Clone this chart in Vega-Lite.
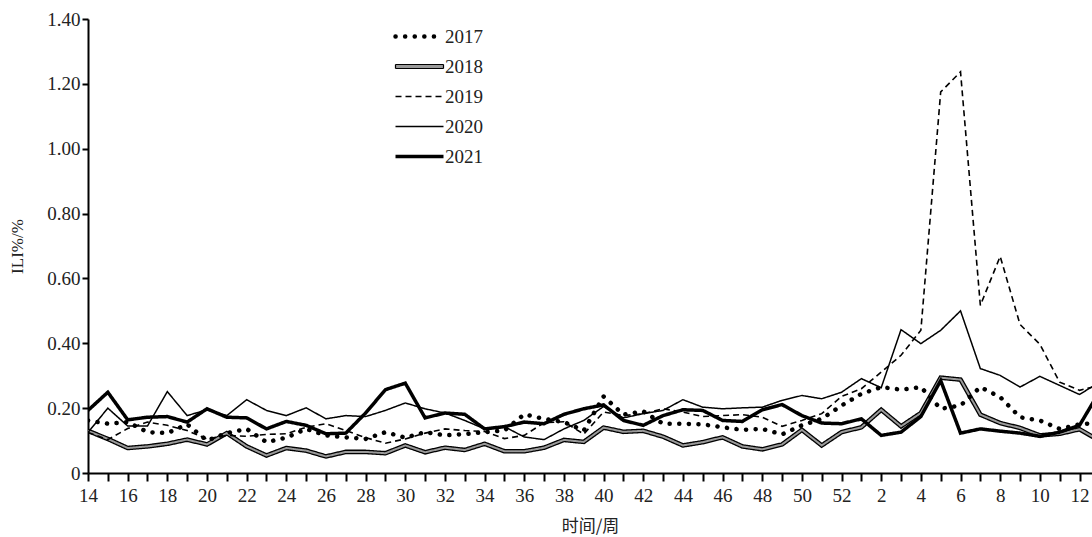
{
  "$schema": "https://vega.github.io/schema/vega-lite/v6.json",
  "width": 1004,
  "height": 454,
  "autosize": {"type": "none"},
  "padding": {"left": 88, "top": 19, "right": 0, "bottom": 64},
  "background": "white",
  "config": {
    "view": {"stroke": null},
    "font": "Liberation Serif",
    "axis": {
      "grid": false,
      "domainColor": "black",
      "domainWidth": 2,
      "tickColor": "black",
      "tickWidth": 2,
      "labelFont": "Liberation Serif",
      "labelFontSize": 19,
      "labelColor": "#222",
      "titleFont": "Noto Sans CJK SC",
      "titleFontSize": 17,
      "titleFontWeight": "normal",
      "titleColor": "#222"
    },
    "legend": {
      "orient": "none",
      "legendX": 322,
      "legendY": 8,
      "title": null,
      "symbolSize": 100,
      "symbolStrokeColor": "black",
      "labelFont": "Liberation Serif",
      "labelFontSize": 19,
      "labelColor": "#222",
      "labelOffset": 16,
      "rowPadding": 10
    }
  },
  "datasets": {
    "ili": [
      {"year":"2017","seq":1,"week":14,"ili":0.162},{"year":"2017","seq":2,"week":15,"ili":0.152},{"year":"2017","seq":3,"week":16,"ili":0.157},{"year":"2017","seq":4,"week":17,"ili":0.126},{"year":"2017","seq":5,"week":18,"ili":0.123},{"year":"2017","seq":6,"week":19,"ili":0.15},{"year":"2017","seq":7,"week":20,"ili":0.10},{"year":"2017","seq":8,"week":21,"ili":0.123},{"year":"2017","seq":9,"week":22,"ili":0.136},{"year":"2017","seq":10,"week":23,"ili":0.095},
      {"year":"2017","seq":11,"week":24,"ili":0.109},{"year":"2017","seq":12,"week":25,"ili":0.136},{"year":"2017","seq":13,"week":26,"ili":0.116},{"year":"2017","seq":14,"week":27,"ili":0.11},{"year":"2017","seq":15,"week":28,"ili":0.105},{"year":"2017","seq":16,"week":29,"ili":0.126},{"year":"2017","seq":17,"week":30,"ili":0.109},{"year":"2017","seq":18,"week":31,"ili":0.126},{"year":"2017","seq":19,"week":32,"ili":0.116},{"year":"2017","seq":20,"week":33,"ili":0.12},
      {"year":"2017","seq":21,"week":34,"ili":0.126},{"year":"2017","seq":22,"week":35,"ili":0.131},{"year":"2017","seq":23,"week":36,"ili":0.181},{"year":"2017","seq":24,"week":37,"ili":0.167},{"year":"2017","seq":25,"week":38,"ili":0.157},{"year":"2017","seq":26,"week":39,"ili":0.131},{"year":"2017","seq":27,"week":40,"ili":0.236},{"year":"2017","seq":28,"week":41,"ili":0.18},{"year":"2017","seq":29,"week":42,"ili":0.19},{"year":"2017","seq":30,"week":43,"ili":0.152},
      {"year":"2017","seq":31,"week":44,"ili":0.152},{"year":"2017","seq":32,"week":45,"ili":0.15},{"year":"2017","seq":33,"week":46,"ili":0.141},{"year":"2017","seq":34,"week":47,"ili":0.133},{"year":"2017","seq":35,"week":48,"ili":0.136},{"year":"2017","seq":36,"week":49,"ili":0.119},{"year":"2017","seq":37,"week":50,"ili":0.147},{"year":"2017","seq":38,"week":51,"ili":0.167},{"year":"2017","seq":39,"week":52,"ili":0.208},{"year":"2017","seq":40,"week":1,"ili":0.244},
      {"year":"2017","seq":41,"week":2,"ili":0.265},{"year":"2017","seq":42,"week":3,"ili":0.257},{"year":"2017","seq":43,"week":4,"ili":0.265},{"year":"2017","seq":44,"week":5,"ili":0.198},{"year":"2017","seq":45,"week":6,"ili":0.208},{"year":"2017","seq":46,"week":7,"ili":0.265},{"year":"2017","seq":47,"week":8,"ili":0.234},{"year":"2017","seq":48,"week":9,"ili":0.172},{"year":"2017","seq":49,"week":10,"ili":0.162},{"year":"2017","seq":50,"week":11,"ili":0.136},
      {"year":"2017","seq":51,"week":12,"ili":0.15},{"year":"2017","seq":52,"week":13,"ili":0.155},

      {"year":"2018","seq":1,"week":14,"ili":0.13},{"year":"2018","seq":2,"week":15,"ili":0.105},{"year":"2018","seq":3,"week":16,"ili":0.077},{"year":"2018","seq":4,"week":17,"ili":0.082},{"year":"2018","seq":5,"week":18,"ili":0.09},{"year":"2018","seq":6,"week":19,"ili":0.103},{"year":"2018","seq":7,"week":20,"ili":0.088},{"year":"2018","seq":8,"week":21,"ili":0.123},{"year":"2018","seq":9,"week":22,"ili":0.082},{"year":"2018","seq":10,"week":23,"ili":0.054},
      {"year":"2018","seq":11,"week":24,"ili":0.077},{"year":"2018","seq":12,"week":25,"ili":0.069},{"year":"2018","seq":13,"week":26,"ili":0.051},{"year":"2018","seq":14,"week":27,"ili":0.065},{"year":"2018","seq":15,"week":28,"ili":0.065},{"year":"2018","seq":16,"week":29,"ili":0.061},{"year":"2018","seq":17,"week":30,"ili":0.085},{"year":"2018","seq":18,"week":31,"ili":0.064},{"year":"2018","seq":19,"week":32,"ili":0.078},{"year":"2018","seq":20,"week":33,"ili":0.071},
      {"year":"2018","seq":21,"week":34,"ili":0.09},{"year":"2018","seq":22,"week":35,"ili":0.067},{"year":"2018","seq":23,"week":36,"ili":0.067},{"year":"2018","seq":24,"week":37,"ili":0.078},{"year":"2018","seq":25,"week":38,"ili":0.102},{"year":"2018","seq":26,"week":39,"ili":0.096},{"year":"2018","seq":27,"week":40,"ili":0.14},{"year":"2018","seq":28,"week":41,"ili":0.127},{"year":"2018","seq":29,"week":42,"ili":0.13},{"year":"2018","seq":30,"week":43,"ili":0.112},
      {"year":"2018","seq":31,"week":44,"ili":0.085},{"year":"2018","seq":32,"week":45,"ili":0.095},{"year":"2018","seq":33,"week":46,"ili":0.11},{"year":"2018","seq":34,"week":47,"ili":0.082},{"year":"2018","seq":35,"week":48,"ili":0.073},{"year":"2018","seq":36,"week":49,"ili":0.088},{"year":"2018","seq":37,"week":50,"ili":0.133},{"year":"2018","seq":38,"week":51,"ili":0.085},{"year":"2018","seq":39,"week":52,"ili":0.126},{"year":"2018","seq":40,"week":1,"ili":0.141},
      {"year":"2018","seq":41,"week":2,"ili":0.195},{"year":"2018","seq":42,"week":3,"ili":0.144},{"year":"2018","seq":43,"week":4,"ili":0.185},{"year":"2018","seq":44,"week":5,"ili":0.294},{"year":"2018","seq":45,"week":6,"ili":0.288},{"year":"2018","seq":46,"week":7,"ili":0.18},{"year":"2018","seq":47,"week":8,"ili":0.154},{"year":"2018","seq":48,"week":9,"ili":0.139},{"year":"2018","seq":49,"week":10,"ili":0.116},{"year":"2018","seq":50,"week":11,"ili":0.121},
      {"year":"2018","seq":51,"week":12,"ili":0.135},{"year":"2018","seq":52,"week":13,"ili":0.10},

      {"year":"2019","seq":1,"week":14,"ili":0.125},{"year":"2019","seq":2,"week":15,"ili":0.103},{"year":"2019","seq":3,"week":16,"ili":0.137},{"year":"2019","seq":4,"week":17,"ili":0.157},{"year":"2019","seq":5,"week":18,"ili":0.147},{"year":"2019","seq":6,"week":19,"ili":0.131},{"year":"2019","seq":7,"week":20,"ili":0.105},{"year":"2019","seq":8,"week":21,"ili":0.116},{"year":"2019","seq":9,"week":22,"ili":0.113},{"year":"2019","seq":10,"week":23,"ili":0.119},
      {"year":"2019","seq":11,"week":24,"ili":0.121},{"year":"2019","seq":12,"week":25,"ili":0.141},{"year":"2019","seq":13,"week":26,"ili":0.152},{"year":"2019","seq":14,"week":27,"ili":0.131},{"year":"2019","seq":15,"week":28,"ili":0.109},{"year":"2019","seq":16,"week":29,"ili":0.092},{"year":"2019","seq":17,"week":30,"ili":0.105},{"year":"2019","seq":18,"week":31,"ili":0.123},{"year":"2019","seq":19,"week":32,"ili":0.136},{"year":"2019","seq":20,"week":33,"ili":0.131},
      {"year":"2019","seq":21,"week":34,"ili":0.128},{"year":"2019","seq":22,"week":35,"ili":0.106},{"year":"2019","seq":23,"week":36,"ili":0.116},{"year":"2019","seq":24,"week":37,"ili":0.155},{"year":"2019","seq":25,"week":38,"ili":0.158},{"year":"2019","seq":26,"week":39,"ili":0.12},{"year":"2019","seq":27,"week":40,"ili":0.188},{"year":"2019","seq":28,"week":41,"ili":0.177},{"year":"2019","seq":29,"week":42,"ili":0.183},{"year":"2019","seq":30,"week":43,"ili":0.198},
      {"year":"2019","seq":31,"week":44,"ili":0.188},{"year":"2019","seq":32,"week":45,"ili":0.174},{"year":"2019","seq":33,"week":46,"ili":0.177},{"year":"2019","seq":34,"week":47,"ili":0.18},{"year":"2019","seq":35,"week":48,"ili":0.172},{"year":"2019","seq":36,"week":49,"ili":0.144},{"year":"2019","seq":37,"week":50,"ili":0.162},{"year":"2019","seq":38,"week":51,"ili":0.183},{"year":"2019","seq":39,"week":52,"ili":0.236},{"year":"2019","seq":40,"week":1,"ili":0.26},
      {"year":"2019","seq":41,"week":2,"ili":0.311},{"year":"2019","seq":42,"week":3,"ili":0.363},{"year":"2019","seq":43,"week":4,"ili":0.44},{"year":"2019","seq":44,"week":5,"ili":1.175},{"year":"2019","seq":45,"week":6,"ili":1.237},{"year":"2019","seq":46,"week":7,"ili":0.517},{"year":"2019","seq":47,"week":8,"ili":0.668},{"year":"2019","seq":48,"week":9,"ili":0.458},{"year":"2019","seq":49,"week":10,"ili":0.397},{"year":"2019","seq":50,"week":11,"ili":0.28},
      {"year":"2019","seq":51,"week":12,"ili":0.255},{"year":"2019","seq":52,"week":13,"ili":0.27},

      {"year":"2020","seq":1,"week":14,"ili":0.125},{"year":"2020","seq":2,"week":15,"ili":0.20},{"year":"2020","seq":3,"week":16,"ili":0.145},{"year":"2020","seq":4,"week":17,"ili":0.145},{"year":"2020","seq":5,"week":18,"ili":0.251},{"year":"2020","seq":6,"week":19,"ili":0.177},{"year":"2020","seq":7,"week":20,"ili":0.195},{"year":"2020","seq":8,"week":21,"ili":0.177},{"year":"2020","seq":9,"week":22,"ili":0.226},{"year":"2020","seq":10,"week":23,"ili":0.193},
      {"year":"2020","seq":11,"week":24,"ili":0.177},{"year":"2020","seq":12,"week":25,"ili":0.201},{"year":"2020","seq":13,"week":26,"ili":0.167},{"year":"2020","seq":14,"week":27,"ili":0.177},{"year":"2020","seq":15,"week":28,"ili":0.174},{"year":"2020","seq":16,"week":29,"ili":0.193},{"year":"2020","seq":17,"week":30,"ili":0.216},{"year":"2020","seq":18,"week":31,"ili":0.198},{"year":"2020","seq":19,"week":32,"ili":0.185},{"year":"2020","seq":20,"week":33,"ili":0.162},
      {"year":"2020","seq":21,"week":34,"ili":0.136},{"year":"2020","seq":22,"week":35,"ili":0.143},{"year":"2020","seq":23,"week":36,"ili":0.111},{"year":"2020","seq":24,"week":37,"ili":0.103},{"year":"2020","seq":25,"week":38,"ili":0.136},{"year":"2020","seq":26,"week":39,"ili":0.162},{"year":"2020","seq":27,"week":40,"ili":0.205},{"year":"2020","seq":28,"week":41,"ili":0.17},{"year":"2020","seq":29,"week":42,"ili":0.183},{"year":"2020","seq":30,"week":43,"ili":0.193},
      {"year":"2020","seq":31,"week":44,"ili":0.226},{"year":"2020","seq":32,"week":45,"ili":0.203},{"year":"2020","seq":33,"week":46,"ili":0.198},{"year":"2020","seq":34,"week":47,"ili":0.201},{"year":"2020","seq":35,"week":48,"ili":0.203},{"year":"2020","seq":36,"week":49,"ili":0.224},{"year":"2020","seq":37,"week":50,"ili":0.239},{"year":"2020","seq":38,"week":51,"ili":0.229},{"year":"2020","seq":39,"week":52,"ili":0.249},{"year":"2020","seq":40,"week":1,"ili":0.291},
      {"year":"2020","seq":41,"week":2,"ili":0.263},{"year":"2020","seq":42,"week":3,"ili":0.442},{"year":"2020","seq":43,"week":4,"ili":0.399},{"year":"2020","seq":44,"week":5,"ili":0.44},{"year":"2020","seq":45,"week":6,"ili":0.50},{"year":"2020","seq":46,"week":7,"ili":0.322},{"year":"2020","seq":47,"week":8,"ili":0.301},{"year":"2020","seq":48,"week":9,"ili":0.265},{"year":"2020","seq":49,"week":10,"ili":0.298},{"year":"2020","seq":50,"week":11,"ili":0.27},
      {"year":"2020","seq":51,"week":12,"ili":0.242},{"year":"2020","seq":52,"week":13,"ili":0.28},

      {"year":"2021","seq":1,"week":14,"ili":0.193},{"year":"2021","seq":2,"week":15,"ili":0.249},{"year":"2021","seq":3,"week":16,"ili":0.164},{"year":"2021","seq":4,"week":17,"ili":0.172},{"year":"2021","seq":5,"week":18,"ili":0.174},{"year":"2021","seq":6,"week":19,"ili":0.157},{"year":"2021","seq":7,"week":20,"ili":0.198},{"year":"2021","seq":8,"week":21,"ili":0.172},{"year":"2021","seq":9,"week":22,"ili":0.170},{"year":"2021","seq":10,"week":23,"ili":0.136},
      {"year":"2021","seq":11,"week":24,"ili":0.159},{"year":"2021","seq":12,"week":25,"ili":0.147},{"year":"2021","seq":13,"week":26,"ili":0.121},{"year":"2021","seq":14,"week":27,"ili":0.123},{"year":"2021","seq":15,"week":28,"ili":0.185},{"year":"2021","seq":16,"week":29,"ili":0.257},{"year":"2021","seq":17,"week":30,"ili":0.277},{"year":"2021","seq":18,"week":31,"ili":0.170},{"year":"2021","seq":19,"week":32,"ili":0.185},{"year":"2021","seq":20,"week":33,"ili":0.181},
      {"year":"2021","seq":21,"week":34,"ili":0.136},{"year":"2021","seq":22,"week":35,"ili":0.143},{"year":"2021","seq":23,"week":36,"ili":0.157},{"year":"2021","seq":24,"week":37,"ili":0.152},{"year":"2021","seq":25,"week":38,"ili":0.181},{"year":"2021","seq":26,"week":39,"ili":0.198},{"year":"2021","seq":27,"week":40,"ili":0.210},{"year":"2021","seq":28,"week":41,"ili":0.162},{"year":"2021","seq":29,"week":42,"ili":0.147},{"year":"2021","seq":30,"week":43,"ili":0.177},
      {"year":"2021","seq":31,"week":44,"ili":0.195},{"year":"2021","seq":32,"week":45,"ili":0.193},{"year":"2021","seq":33,"week":46,"ili":0.162},{"year":"2021","seq":34,"week":47,"ili":0.159},{"year":"2021","seq":35,"week":48,"ili":0.195},{"year":"2021","seq":36,"week":49,"ili":0.211},{"year":"2021","seq":37,"week":50,"ili":0.177},{"year":"2021","seq":38,"week":51,"ili":0.154},{"year":"2021","seq":39,"week":52,"ili":0.152},{"year":"2021","seq":40,"week":1,"ili":0.167},
      {"year":"2021","seq":41,"week":2,"ili":0.116},{"year":"2021","seq":42,"week":3,"ili":0.126},{"year":"2021","seq":43,"week":4,"ili":0.174},{"year":"2021","seq":44,"week":5,"ili":0.285},{"year":"2021","seq":45,"week":6,"ili":0.123},{"year":"2021","seq":46,"week":7,"ili":0.136},{"year":"2021","seq":47,"week":8,"ili":0.129},{"year":"2021","seq":48,"week":9,"ili":0.123},{"year":"2021","seq":49,"week":10,"ili":0.113},{"year":"2021","seq":50,"week":11,"ili":0.126},
      {"year":"2021","seq":51,"week":12,"ili":0.147},{"year":"2021","seq":52,"week":13,"ili":0.25}
    ]
  },
  "data": {"name": "ili"},
  "encoding": {
    "x": {
      "field": "seq",
      "type": "quantitative",
      "scale": {"domain": [1, 51.63], "nice": false, "zero": false},
      "axis": {
        "values": [1,2,3,4,5,6,7,8,9,10,11,12,13,14,15,16,17,18,19,20,21,22,23,24,25,26,27,28,29,30,31,32,33,34,35,36,37,38,39,40,41,42,43,44,45,46,47,48,49,50,51],
        "labelExpr": "datum.value % 2 == 1 ? (datum.value <= 39 ? datum.value + 13 : datum.value - 39) : ''",
        "tickSize": 8,
        "labelPadding": 5,
        "labelFlush": false,
        "labelOverlap": false,
        "title": "时间/周",
        "titlePadding": 13
      }
    },
    "y": {
      "field": "ili",
      "type": "quantitative",
      "scale": {"domain": [0, 1.4], "nice": false},
      "axis": {
        "values": [0, 0.2, 0.4, 0.6, 0.8, 1.0, 1.2, 1.4],
        "labelExpr": "datum.value == 0 ? '0' : format(datum.value, '.2f')",
        "tickSize": 6,
        "labelPadding": 2,
        "title": "ILI%/%",
        "titleFont": "Liberation Serif",
        "titleFontSize": 17,
        "titlePadding": 20
      }
    },
    "strokeDash": {
      "field": "year",
      "type": "nominal",
      "scale": {"domain": ["2017","2018","2019","2020","2021"], "range": [[0.1, 9.5],[1, 0],[6, 4],[1, 0],[1, 0]]},
      "legend": {
        "encode": {
          "symbols": {
            "update": {
              "stroke": {"value": "black"},
              "shape": {"signal": "datum.label === '2018' ? 'M-4.8,-0.4H4.8V0.4H-4.8Z' : 'M-4.8,0H4.8'"},
              "fill": {"signal": "datum.label === '2018' ? '#9a9a9a' : 'transparent'"},
              "strokeWidth": {"signal": "datum.label === '2017' ? 4.5 : datum.label === '2018' ? 1.2 : datum.label === '2019' ? 1.6 : datum.label === '2020' ? 1.5 : 3.5"},
              "strokeDash": {"signal": "datum.label === '2017' ? [0.1, 9.5] : datum.label === '2019' ? [6, 4] : []"},
              "strokeCap": {"signal": "datum.label === '2017' ? 'round' : 'butt'"}
            }
          }
        }
      }
    }
  },
  "layer": [
    {
      "transform": [{"filter": "datum.year == '2018'"}],
      "mark": {"type": "line", "clip": true, "color": "black", "strokeWidth": 4.6, "strokeJoin": "miter"}
    },
    {
      "transform": [{"filter": "datum.year == '2018'"}],
      "mark": {"type": "line", "clip": true, "color": "#9a9a9a", "strokeWidth": 2, "strokeJoin": "miter"},
      "encoding": {"strokeDash": {"value": [1, 0]}}
    },
    {
      "transform": [{"filter": "datum.year == '2019'"}],
      "mark": {"type": "line", "clip": true, "color": "black", "strokeWidth": 1.6}
    },
    {
      "transform": [{"filter": "datum.year == '2020'"}],
      "mark": {"type": "line", "clip": true, "color": "black", "strokeWidth": 1.5}
    },
    {
      "transform": [{"filter": "datum.year == '2021'"}],
      "mark": {"type": "line", "clip": true, "color": "black", "strokeWidth": 3.5}
    },
    {
      "transform": [{"filter": "datum.year == '2017'"}],
      "mark": {"type": "line", "clip": true, "color": "black", "strokeWidth": 4.5, "strokeCap": "round"}
    }
  ]
}
